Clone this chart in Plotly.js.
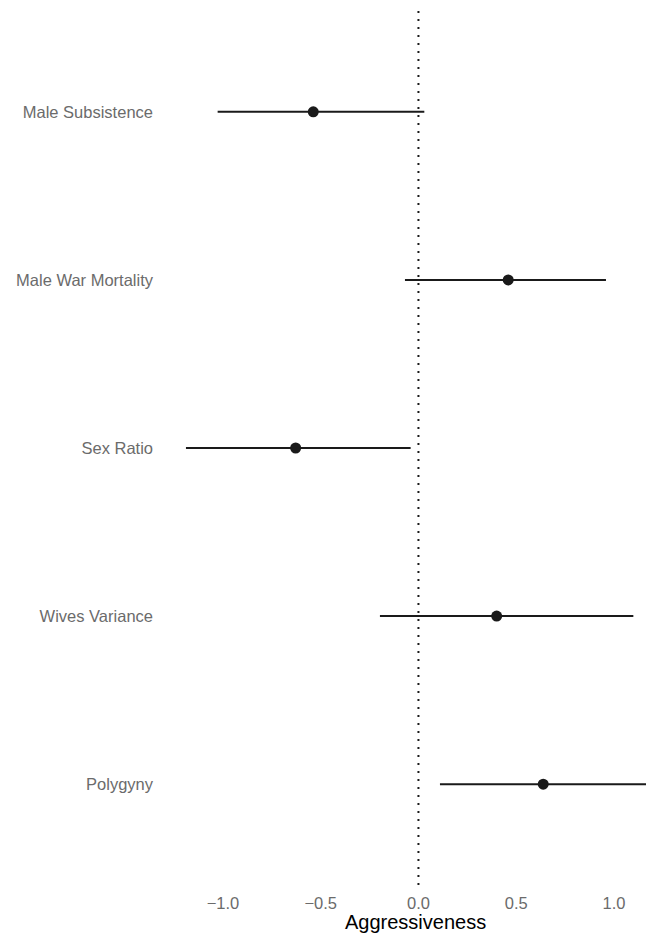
<!DOCTYPE html>
<html>
<head>
<meta charset="utf-8">
<script src="https://cdn.plot.ly/plotly-3.0.1.min.js"></script>
<style>html,body{margin:0;padding:0;background:#fff;}#chart{width:646px;height:935px;}</style>
</head>
<body>
<div id="chart"></div>
<script>
const categories = ['Male Subsistence', 'Male War Mortality', 'Sex Ratio', 'Wives Variance', 'Polygyny'];
const estimate = [-0.538, 0.459, -0.628, 0.400, 0.638];
const lower = [-1.027, -0.069, -1.189, -0.197, 0.110];
const upper = [0.030, 0.959, -0.040, 1.099, 1.165];
const tickVals = [-1.0, -0.5, 0.0, 0.5, 1.0];
const tickText = ['\u22121.0', '\u22120.5', '0.0', '0.5', '1.0'];

const trace = {
  type: 'scatter',
  mode: 'markers',
  x: estimate,
  y: categories,
  marker: {size: 11, color: '#1a1a1a'},
  error_x: {
    type: 'data',
    symmetric: false,
    array: estimate.map((v, i) => upper[i] - v),
    arrayminus: estimate.map((v, i) => v - lower[i]),
    width: 0,
    thickness: 2,
    color: '#1a1a1a'
  },
  cliponaxis: true,
  hoverinfo: 'x+y'
};

const layout = {
  width: 646,
  height: 935,
  margin: {l: 158, r: 0, t: 11, b: 50},
  paper_bgcolor: '#ffffff',
  plot_bgcolor: '#ffffff',
  showlegend: false,
  font: {family: 'Liberation Sans, Arial, sans-serif', color: '#6b6b6b', size: 16.5},
  xaxis: {
    range: [-1.332, 1.1637],
    tickvals: tickVals,
    ticktext: tickText,
    showgrid: false,
    zeroline: false,
    showline: false,
    ticks: '',
    ticklabelstandoff: 6,
    tickfont: {size: 16.5, color: '#6b6b6b'},
    fixedrange: true
  },
  yaxis: {
    type: 'category',
    categoryorder: 'array',
    categoryarray: categories.slice().reverse(),
    range: [-0.6, 4.6],
    showgrid: false,
    zeroline: false,
    showline: false,
    ticks: '',
    ticklabelstandoff: 4,
    tickfont: {size: 16.5, color: '#6b6b6b'},
    fixedrange: true
  },
  shapes: [{
    type: 'line', xref: 'x', yref: 'paper',
    x0: 0, x1: 0, y0: 0, y1: 1,
    line: {color: '#1a1a1a', width: 2, dash: '2px,6px'},
    layer: 'below'
  }],
  annotations: [{
    text: 'Aggressiveness',
    xref: 'paper', yref: 'paper',
    x: 0.527, y: 0, yshift: -25,
    xanchor: 'center', yanchor: 'top',
    borderpad: 0,
    showarrow: false,
    font: {size: 20, color: '#000000'}
  }]
};

Plotly.newPlot('chart', [trace], layout, {displayModeBar: false, staticPlot: true});
</script>
</body>
</html>
